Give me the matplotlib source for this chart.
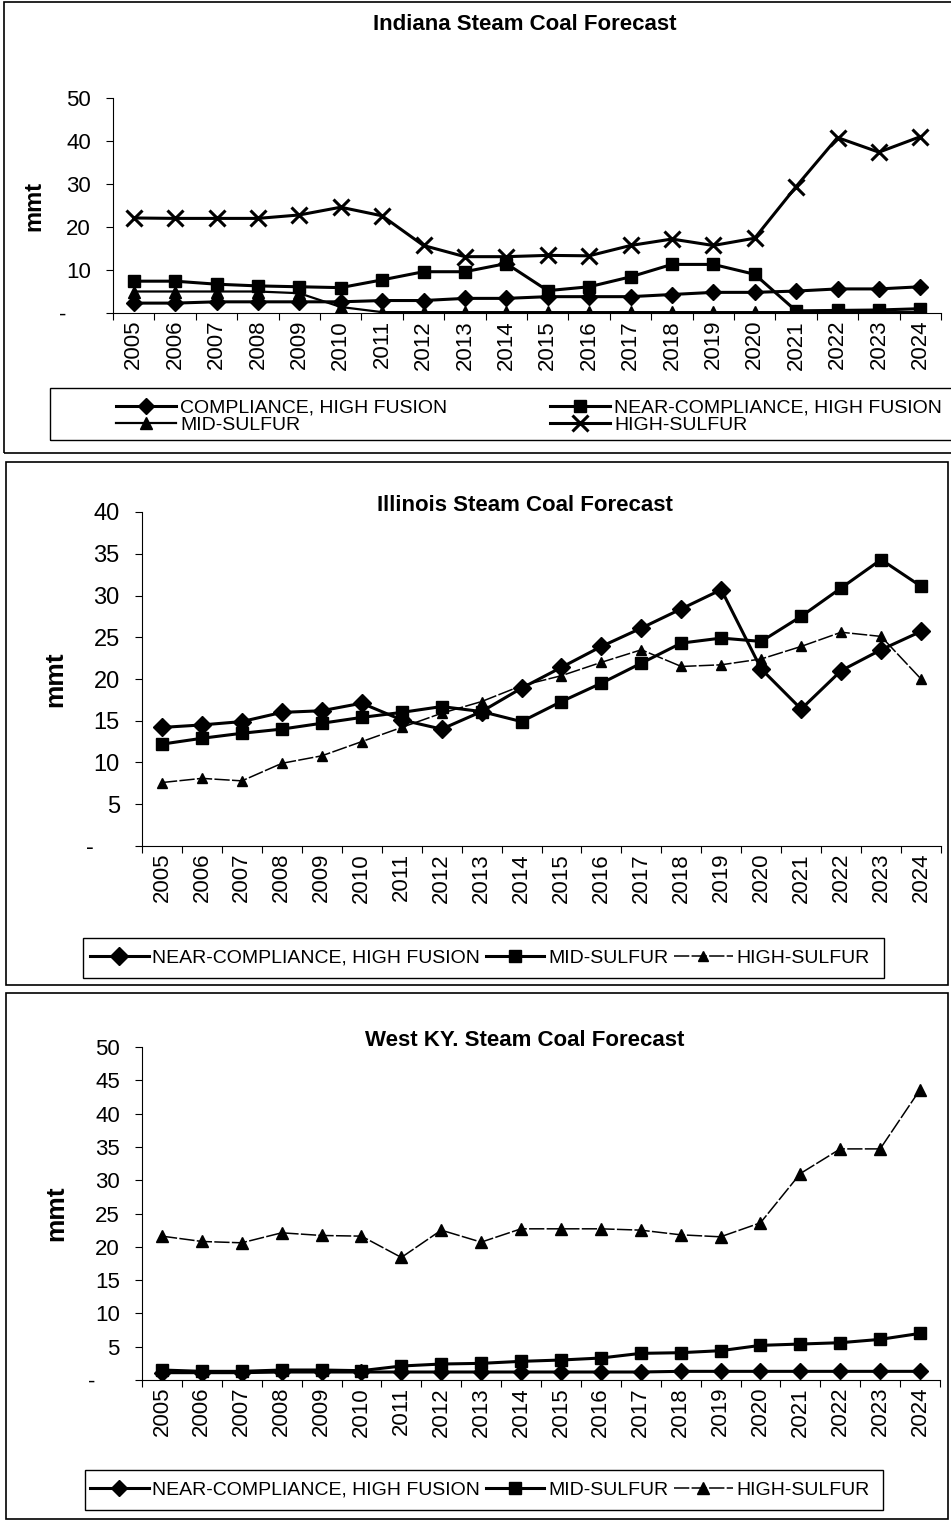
import matplotlib
matplotlib.use("Agg")
import matplotlib.pyplot as plt
from matplotlib.patches import Rectangle

plt.rcParams['font.family'] = ['Liberation Sans', 'DejaVu Sans']

years = [str(y) for y in range(2005, 2025)]

# Indiana
ind_compliance = [2.3, 2.3, 2.6, 2.6, 2.6, 2.6, 2.9, 2.9, 3.4, 3.4, 3.8, 3.8, 3.8, 4.3, 4.8, 4.8, 5.1, 5.6, 5.6, 6.1]
ind_near = [7.4, 7.4, 6.7, 6.3, 6.1, 5.9, 7.7, 9.6, 9.6, 11.5, 5.2, 6.1, 8.4, 11.3, 11.3, 9.0, 0.5, 0.6, 0.7, 1.0]
ind_mid = [5.0, 5.0, 5.0, 5.0, 4.6, 1.4, 0.2, 0.2, 0.2, 0.2, 0.2, 0.2, 0.2, 0.2, 0.2, 0.2, 0.2, 0.2, 0.2, 0.2]
ind_high = [22.1, 22.0, 22.0, 22.0, 22.8, 24.6, 22.6, 15.7, 13.1, 13.1, 13.4, 13.3, 15.7, 17.2, 15.7, 17.4, 29.4, 40.8, 37.4, 41.0]

# Illinois
ill_near = [14.2, 14.5, 14.9, 16.0, 16.2, 17.1, 15.1, 14.0, 16.1, 18.9, 21.4, 23.9, 26.1, 28.4, 30.7, 21.2, 16.4, 21.0, 23.5, 25.7]
ill_mid = [12.2, 12.9, 13.5, 14.0, 14.7, 15.4, 16.0, 16.7, 16.1, 14.9, 17.3, 19.5, 21.9, 24.3, 24.9, 24.5, 27.5, 30.9, 34.3, 31.1]
ill_high = [7.6, 8.1, 7.8, 9.9, 10.8, 12.5, 14.2, 15.9, 17.3, 19.2, 20.4, 22.0, 23.5, 21.5, 21.7, 22.4, 23.9, 25.6, 25.1, 20.0]

# West KY
wky_near = [1.1, 1.1, 1.1, 1.2, 1.2, 1.2, 1.2, 1.2, 1.2, 1.2, 1.2, 1.2, 1.2, 1.3, 1.3, 1.3, 1.3, 1.3, 1.3, 1.3]
wky_mid = [1.5, 1.3, 1.3, 1.5, 1.5, 1.4, 2.1, 2.4, 2.5, 2.8, 3.0, 3.3, 4.0, 4.1, 4.4, 5.2, 5.4, 5.6, 6.1, 7.0]
wky_high = [21.6, 20.8, 20.6, 22.1, 21.7, 21.6, 18.4, 22.5, 20.7, 22.7, 22.7, 22.7, 22.5, 21.8, 21.5, 23.6, 31.0, 34.7, 34.7, 43.6]

W, H = 951, 1521
fig = plt.figure(figsize=(W / 100, H / 100), dpi=100)


def px_axes(left, top, right, bottom):
    return fig.add_axes([left / W, 1 - bottom / H, (right - left) / W, (bottom - top) / H])


def style_axes(ax, ymax, step, title, title_y, ysize, lsize):
    x = list(range(len(years)))
    ax.set_xlim(-0.5, len(years) - 0.5)
    ax.set_ylim(0, ymax)
    ax.spines['top'].set_visible(False)
    ax.spines['right'].set_visible(False)
    ax.set_xticks([i - 0.5 for i in range(len(years) + 1)])
    ax.set_xticklabels([])
    ax.set_xticks(x, minor=True)
    ax.set_xticklabels(years, minor=True, rotation=90, fontsize=16)
    ax.tick_params(axis='x', which='minor', length=0, pad=5)
    ax.tick_params(axis='x', which='major', length=5, direction='out')
    ticks = list(range(0, ymax + 1, step))
    ax.set_yticks(ticks)
    ax.set_yticklabels(['-    '] + [str(t) for t in ticks[1:]], fontsize=ysize)
    ax.tick_params(axis='y', length=5, direction='out', pad=11)
    ax.set_ylabel('mmt', fontsize=lsize, fontweight='bold')
    fig.text(525 / W, 1 - title_y / H, title, fontsize=16, fontweight='bold',
             ha='center', va='center')


def px_box(left, top, right, bottom, lw=1.2):
    fig.add_artist(Rectangle((left / W, 1 - bottom / H), (right - left) / W, (bottom - top) / H,
                             transform=fig.transFigure, fill=False, lw=lw, ec='black'))


legend_font = {'size': 14}
x = range(len(years))

# ---- Indiana ----
px_box(4, 2, 960, 453)
ax1 = px_axes(113, 98, 941, 313)
h_comp, = ax1.plot(x, ind_compliance, color='black', lw=2.2, marker='D', ms=8, label='COMPLIANCE, HIGH FUSION')
h_near, = ax1.plot(x, ind_near, color='black', lw=2.2, marker='s', ms=9, label='NEAR-COMPLIANCE, HIGH FUSION')
h_mid, = ax1.plot(x, ind_mid, color='black', lw=1.6, marker='^', ms=9, label='MID-SULFUR')
h_high, = ax1.plot(x, ind_high, color='black', lw=2.2, marker='x', ms=11, mew=2.2, label='HIGH-SULFUR')
style_axes(ax1, 50, 10, 'Indiana Steam Coal Forecast', 25, 16, 17)
ax1.yaxis.set_label_coords(-0.082, 0.5)
px_box(50, 388, 962, 440, lw=1.0)
ax1.legend(handles=[h_comp, h_mid, h_near, h_high], loc='upper left',
           bbox_to_anchor=((106 - 113) / 828, -(389 - 313) / 215),
           ncol=2, frameon=False, prop=legend_font, handlelength=3.1,
           columnspacing=5.3, labelspacing=0.0, borderpad=0.0, handletextpad=0.2)

# ---- Illinois ----
px_box(6, 462, 948, 985)
ax2 = px_axes(142, 512, 941, 846)
ax2.plot(x, ill_near, color='black', lw=2.2, marker='D', ms=9, label='NEAR-COMPLIANCE, HIGH FUSION')
ax2.plot(x, ill_mid, color='black', lw=2.2, marker='s', ms=9, label='MID-SULFUR')
ax2.plot(x, ill_high, color='black', lw=1.1, ls=(0, (10, 1.5)), marker='^', ms=7, label='HIGH-SULFUR')
style_axes(ax2, 40, 5, 'Illinois Steam Coal Forecast', 505, 17, 19)
ax2.yaxis.set_label_coords(-0.093, 0.5)
px_box(83, 938, 884, 978, lw=1.0)
ax2.legend(loc='center', bbox_to_anchor=((480 - 142) / 799, -(958 - 846) / 334),
           ncol=3, frameon=False, prop=legend_font, handlelength=3.0, columnspacing=0.3,
           borderpad=0.0, handletextpad=0.2)

# ---- West KY ----
px_box(6, 993, 948, 1519)
ax3 = px_axes(142, 1047, 940, 1380)
ax3.plot(x, wky_near, color='black', lw=2.2, marker='D', ms=8, label='NEAR-COMPLIANCE, HIGH FUSION')
ax3.plot(x, wky_mid, color='black', lw=2.2, marker='s', ms=9, label='MID-SULFUR')
ax3.plot(x, wky_high, color='black', lw=1.1, ls=(0, (10, 1.5)), marker='^', ms=9, label='HIGH-SULFUR')
style_axes(ax3, 50, 5, 'West KY. Steam Coal Forecast', 1040, 16, 19)
ax3.yaxis.set_label_coords(-0.093, 0.5)
px_box(85, 1470, 883, 1510, lw=1.0)
ax3.legend(loc='center', bbox_to_anchor=((480 - 142) / 798, -(1490 - 1380) / 333),
           ncol=3, frameon=False, prop=legend_font, handlelength=3.0, columnspacing=0.3,
           borderpad=0.0, handletextpad=0.2)

fig.savefig('out.png', dpi=100)
